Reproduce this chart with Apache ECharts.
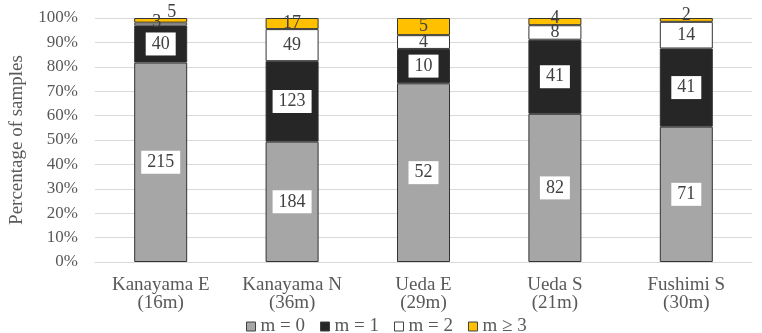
<!DOCTYPE html>
<html>
<head>
<meta charset="utf-8">
<script src="https://cdn.jsdelivr.net/npm/echarts@6/dist/echarts.min.js"></script>
<style>
  html, body { margin: 0; padding: 0; background: #fff; }
  #main { width: 762px; height: 333px; }
</style>
</head>
<body>
<div id="main"></div>
<script>
// sample counts per site
const categories = ['Kanayama E\n(16m)', 'Kanayama N\n(36m)', 'Ueda E\n(29m)', 'Ueda S\n(21m)', 'Fushimi S\n(30m)']
const m0 = [215, 184, 52, 82, 71]
const m1 = [40, 123, 10, 41, 41]
const m2 = [3, 49, 4, 8, 14]
const m3 = [5, 17, 5, 4, 2]
const yTicks = ['0%', '10%', '20%', '30%', '40%', '50%', '60%', '70%', '80%', '90%', '100%']

const totals = categories.map((c, i) => m0[i] + m1[i] + m2[i] + m3[i])
const font = 'Liberation Serif, Times New Roman, serif'

// 计算百分比，保留原始数量用于标签
const toItems = (arr, offsets) => arr.map((v, i) => {
  const item = { value: v / totals[i] * 100, count: v }
  if (offsets && offsets[i]) item.label = { offset: offsets[i] }
  return item
})

const boxLabel = {
  show: true,
  position: 'inside',
  formatter: p => p.data.count,
  fontFamily: font,
  fontSize: 18,
  color: '#404040',
  backgroundColor: '#fff',
  padding: [3, 6, 2, 6]
}
const plainLabel = {
  show: true,
  position: 'inside',
  formatter: p => p.data.count,
  fontFamily: font,
  fontSize: 18,
  color: '#404040'
}

const bar = (name, data, color, label) => ({
  name: name,
  type: 'bar',
  stack: 'total',
  barWidth: 53,
  data: data,
  itemStyle: { color: color, borderColor: '#333', borderWidth: 1 },
  label: label
})

const legendItem = name => ({ name: name, itemStyle: { borderColor: '#404040', borderWidth: 1 } })

const myChart = echarts.init(document.getElementById('main'))
const option = {
  animation: false,
  textStyle: { fontFamily: font },
  grid: { left: 95, right: 10, top: 18, bottom: 71 },
  legend: {
    top: 312,
    left: 241,
    itemWidth: 9,
    itemHeight: 9,
    itemGap: 15,
    icon: 'rect',
    textStyle: { fontFamily: font, fontSize: 19, color: '#595959' },
    data: ['m = 0', 'm = 1', 'm = 2', 'm ≥ 3'].map(legendItem)
  },
  xAxis: {
    type: 'category',
    data: categories,
    axisTick: { show: false },
    axisLine: { lineStyle: { color: '#d9d9d9' } },
    axisLabel: { color: '#595959', fontSize: 19, lineHeight: 18, margin: 14, fontFamily: font }
  },
  yAxis: {
    type: 'value',
    min: 0,
    max: 100,
    interval: 10,
    name: 'Percentage of samples',
    nameLocation: 'middle',
    nameGap: 68,
    nameTextStyle: { color: '#595959', fontSize: 19, fontFamily: font },
    axisLine: { show: false },
    axisTick: { show: false },
    splitLine: { lineStyle: { color: '#d9d9d9' } },
    axisLabel: {
      color: '#595959',
      fontSize: 17,
      margin: 17,
      fontFamily: font,
      formatter: v => yTicks[Math.round(v / 10)]
    }
  },
  series: [
    bar('m = 0', toItems(m0), '#a6a6a6', boxLabel),
    bar('m = 1', toItems(m1), '#262626', boxLabel),
    bar('m = 2', toItems(m2, [[-4, -2]]), '#ffffff', plainLabel),
    bar('m ≥ 3', toItems(m3, [[11, -8], null, null, [0, -3], [0, -5]]), '#ffc000', plainLabel)
  ]
}
myChart.setOption(option)
</script>
</body>
</html>
